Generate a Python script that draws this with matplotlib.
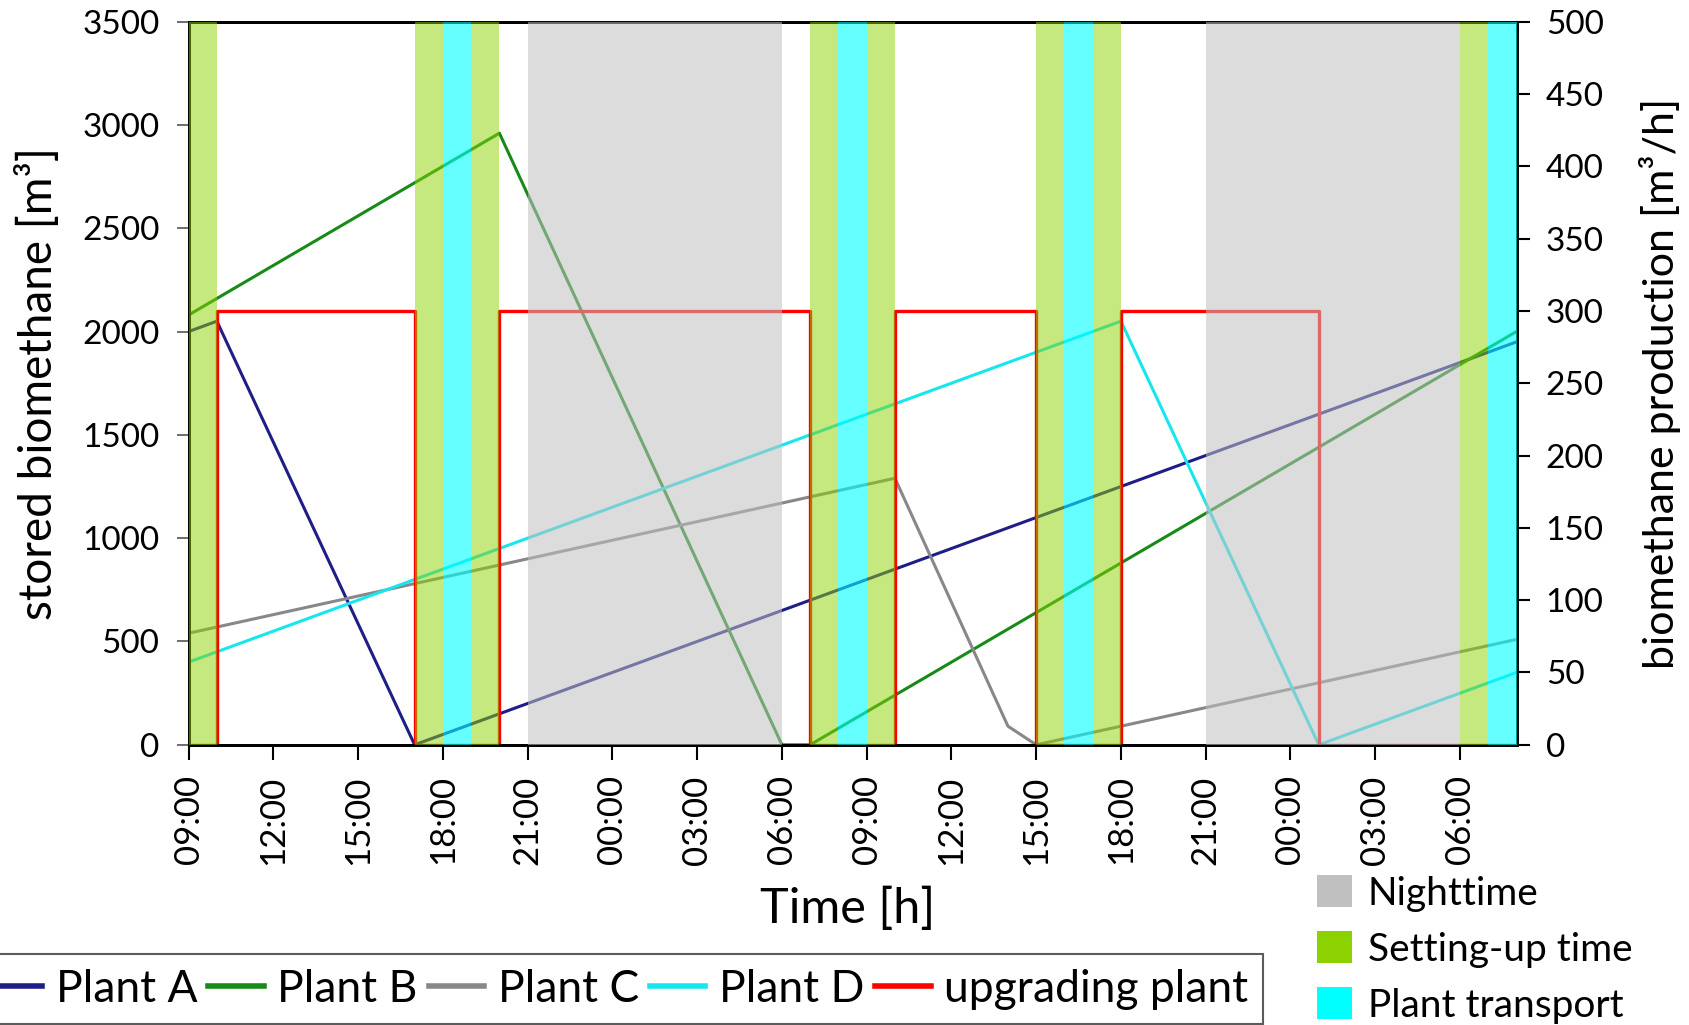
import matplotlib
matplotlib.use("Agg")
import matplotlib.pyplot as plt
from matplotlib.lines import Line2D
from matplotlib.patches import Patch

plt.rcParams['font.family'] = ['Lato', 'DejaVu Sans']

# ---------------- data ----------------
# time axis in hours after 09:00 on day 1
tick_hours = [0, 3, 6, 9, 12, 15, 18, 21, 24, 27, 30, 33, 36, 39, 42, 45]
tick_labels = ["09:00", "12:00", "15:00", "18:00", "21:00", "00:00", "03:00", "06:00",
               "09:00", "12:00", "15:00", "18:00", "21:00", "00:00", "03:00", "06:00"]

plant_a_t = [0, 1, 8, 47]
plant_a_v = [2000, 2050, 0, 1950]
plant_b_t = [0, 11, 21, 22, 47]
plant_b_v = [2080, 2960, 0, 0, 2000]
plant_c_t = [0, 25, 29, 30, 47]
plant_c_v = [540, 1290, 90, 0, 510]
plant_d_t = [0, 33, 40, 47]
plant_d_v = [400, 2050, 0, 350]

upgrading_t = [0, 1, 8, 11, 22, 25, 30, 33, 40, 47]
upgrading_v = [0, 300, 0, 300, 0, 300, 0, 300, 0, 0]

night_spans = [(12, 21), (36, 45)]
setup_spans = [(0, 1), (8, 9), (10, 11), (22, 23), (24, 25), (30, 31), (32, 33), (45, 46)]
transport_spans = [(9, 10), (23, 24), (31, 32), (46, 47)]

# ---------------- figure ----------------
W, H = 1690, 1025
fig = plt.figure(figsize=(W / 100, H / 100), dpi=100)
L, R, T, B = 188.6, 1516.5, 21.6, 744.8
ax = fig.add_axes([L / W, 1 - B / H, (R - L) / W, (B - T) / H])
ax2 = ax.twinx()

c_a, c_b, c_c, c_d, c_up = '#1E1E86', '#178A17', '#888888', '#18E6EE', '#FF0000'
lw = 2.2
ax.plot(plant_a_t, plant_a_v, color=c_a, lw=lw, label='Plant A')
ax.plot(plant_b_t, plant_b_v, color=c_b, lw=lw, label='Plant B')
ax.plot(plant_c_t, plant_c_v, color=c_c, lw=lw, label='Plant C')
ax.plot(plant_d_t, plant_d_v, color=c_d, lw=lw, label='Plant D')

ax2.plot(upgrading_t, upgrading_v, color=c_up, lw=2.4, drawstyle='steps-post',
         label='upgrading plant', zorder=2)

col_night, col_setup, col_trans = '#C0C0C0', '#8CD200', '#00FFFF'
for a, b in night_spans:
    ax2.axvspan(a, b, color=col_night, alpha=0.55, lw=0, zorder=3)
for a, b in setup_spans:
    ax2.axvspan(a, b, color=col_setup, alpha=0.5, lw=0, zorder=3)
for a, b in transport_spans:
    ax2.axvspan(a, b, color=col_trans, alpha=0.6, lw=0, zorder=3)

ax.set_xlim(0, 47)
ax.set_ylim(0, 3500)
ax2.set_ylim(0, 500)
ax.set_yticks(range(0, 3501, 500))
ax2.set_yticks(range(0, 501, 50))
ax.set_xticks(tick_hours)
ax.set_xticklabels(tick_labels, rotation=90)

ax.tick_params(axis='y', direction='out', length=9, width=1.2, color='#555555',
               labelsize=24, pad=12)
ax.tick_params(axis='x', direction='out', length=11, width=1.5, color='black',
               labelsize=25, pad=11)
ax2.tick_params(axis='y', direction='out', length=9, width=1.5, color='black',
                labelsize=24, pad=12)

for a_ in (ax, ax2):
    for s in a_.spines.values():
        s.set_color('black')
        s.set_linewidth(2)

ax.set_ylabel('stored biomethane [m³]', fontsize=33)
ax.yaxis.label.set_va('center')
ax.yaxis.set_label_coords((38 - L) / (R - L), 0.5)
ax2.set_ylabel('biomethane production [m³/h]', fontsize=31, rotation=90)
ax2.yaxis.label.set_va('center')
ax2.yaxis.set_label_coords((1660 - L) / (R - L), 0.5)
ax.set_xlabel('Time [h]', fontsize=35)
ax.xaxis.label.set_va('center')
ax.xaxis.set_label_coords((848 - L) / (R - L), (B - 909) / (B - T))

# line legend
handles = [Line2D([], [], color=c, lw=4) for c in (c_a, c_b, c_c, c_d, c_up)]
labels = ['Plant A', 'Plant B', 'Plant C', 'Plant D', 'upgrading plant']
leg1 = fig.legend(handles, labels, ncol=5, loc='center right',
                  bbox_to_anchor=(1263 / W, 1 - 989 / H), fontsize=32,
                  frameon=True, fancybox=False, edgecolor='#333333',
                  handlelength=1.25, handletextpad=0.3, columnspacing=0.25,
                  borderpad=0.33, borderaxespad=0)
leg1.get_frame().set_linewidth(1.5)

# band legend
phandles = [Patch(facecolor=col_night, edgecolor='none'),
            Patch(facecolor=col_setup, edgecolor='none'),
            Patch(facecolor=col_trans, edgecolor='none')]
plabels = ['Nighttime', 'Setting-up time', 'Plant transport']
leg2 = fig.legend(phandles, plabels, loc='upper left',
                  bbox_to_anchor=(1317 / W, 1 - 875 / H), fontsize=28,
                  frameon=False, handlelength=0.9, handleheight=0.9,
                  handletextpad=0.4, labelspacing=0.5, borderpad=0,
                  borderaxespad=0)

fig.savefig('out.png', dpi=100)
